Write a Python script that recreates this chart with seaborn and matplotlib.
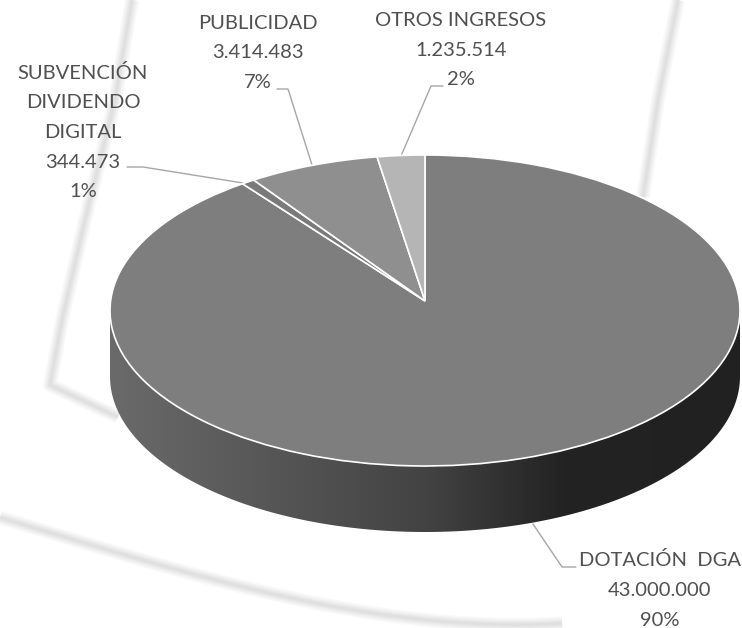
"""Pseudo-3D pie of income sources, on a faint watermark background."""

from __future__ import annotations

import matplotlib

matplotlib.use("Agg")
import matplotlib.pyplot as plt  # noqa: E402
import numpy as np  # noqa: E402
import seaborn as sns  # noqa: E402
from matplotlib.colors import LinearSegmentedColormap  # noqa: E402
from matplotlib.patches import Polygon  # noqa: E402

CATEGORIES = ["DOTACIÓN  DGA", "SUBVENCIÓN\nDIVIDENDO\nDIGITAL", "PUBLICIDAD", "OTROS INGRESOS"]
AMOUNTS = [43000000, 344473, 3414483, 1235514]
PERCENTS = [90, 1, 7, 2]
SLICE_COLORS = ["#7e7e7e", "#7a7a7a", "#8f8f8f", "#b5b5b5"]

WIDTH_PX, HEIGHT_PX = 742, 628
# ellipse of the top face in pixels
CX, CY, RX, RY = 425.0, 310.5, 315.0, 155.5
DEPTH = 66.0
APEX_Y = 301.0
BACK_SQUEEZE = 0.055
TEXT_COLOR = "#505050"
LEADER_COLOR = "#a6a6a6"


def label_text(idx: int) -> str:
    amount = f"{AMOUNTS[idx]:,}".replace(",", ".")
    return f"{CATEGORIES[idx]}\n{amount}\n{PERCENTS[idx]}%"


def soft_line(axis: plt.Axes, xs, ys) -> None:
    """Layer translucent strokes so the line looks blurred."""
    for width in (10, 8, 6, 4.5, 3, 1.6):
        axis.plot(xs, ys, color="#a0a0a0", alpha=0.06, lw=width,
                  solid_joinstyle="round", solid_capstyle="butt")


def draw_watermark(axis: plt.Axes) -> None:
    soft_line(axis, [132, 115, 85, 62, 50, 118], [0, 100, 220, 320, 385, 417])
    soft_line(axis, [678, 658, 643], [0, 100, 197])
    knots_x = [0, 71, 143, 238, 333, 428, 562]
    knots_y = [520, 533, 563, 587, 607, 618, 624]
    curve = np.poly1d(np.polyfit(knots_x, knots_y, 3))
    xs = np.linspace(0, 562, 120)
    soft_line(axis, xs, curve(xs))


def draw_labels(axis: plt.Axes) -> None:
    spots = {0: (660, 590), 1: (83, 132), 2: (258, 53), 3: (461, 50)}
    for idx, (x, y) in spots.items():
        axis.text(
            x, y, label_text(idx), ha="center", va="center", color=TEXT_COLOR,
            fontsize=14.5, linespacing=1.9,
        )
    leaders = [
        [(533, 524), (562, 567), (576, 567)],
        [(127, 167), (143, 167), (243, 183)],
        [(277, 89), (288, 89), (312, 165)],
        [(443, 86), (431, 86), (401, 156)],
    ]
    for leader in leaders:
        xs, ys = zip(*leader)
        axis.plot(xs, ys, color=LEADER_COLOR, lw=1.0)


def draw_side(axis: plt.Axes) -> None:
    """Shaded wall below the top face, in unit-circle coordinates."""
    depth = DEPTH / RY
    theta = np.linspace(0, np.pi, 200)
    lower = np.column_stack([-np.cos(theta), -np.sin(theta) - depth])
    upper = np.array([[1.0, 0.0], [-1.0, 0.0]])
    clip = Polygon(np.vstack([lower, upper]), closed=True, transform=axis.transData)
    shade = LinearSegmentedColormap.from_list(
        "side", [(0.0, "#6a6a6a"), (0.18, "#5c5c5c"), (0.5, "#434343"), (0.72, "#232323"), (1.0, "#212121")]
    )
    gradient = np.linspace(0, 1, 400).reshape(1, -1)
    image = axis.imshow(
        gradient, cmap=shade, extent=(-1, 1, -1 - depth, 0), aspect="auto", zorder=1
    )
    image.set_clip_path(clip)


def squeezed(theta: float) -> float:
    """Perspective narrows the far quarter of the disc, seen from the top."""
    phi = (theta - 90.0) % 360.0
    return theta - BACK_SQUEEZE * phi if phi < 90.0 else theta


def main() -> None:
    sns.set_theme(style="white")
    plt.rcParams["font.family"] = ["Lato", "DejaVu Sans"]
    figure = plt.figure(figsize=(WIDTH_PX / 100, HEIGHT_PX / 100), dpi=100)

    back = figure.add_axes([0, 0, 1, 1])
    back.set_xlim(0, WIDTH_PX)
    back.set_ylim(HEIGHT_PX, 0)
    back.axis("off")
    draw_watermark(back)
    draw_labels(back)

    axis = figure.add_axes([0, 0, 1, 1], zorder=2)
    axis.patch.set_alpha(0)
    draw_side(axis)
    wedges, _ = axis.pie(
        AMOUNTS,
        colors=SLICE_COLORS,
        startangle=90,
        counterclock=False,
        wedgeprops={"edgecolor": "white", "linewidth": 1.2, "zorder": 3},
    )
    for wedge in wedges:
        theta1, theta2 = wedge.theta1, wedge.theta2
        wedge.set_theta1(squeezed(theta1))
        wedge.set_theta2(squeezed(theta2))
        # the perspective of the original pulls the apex up from the ellipse centre
        verts = wedge.get_path().vertices
        verts[np.hypot(verts[:, 0], verts[:, 1]) < 1e-6, 1] += (CY - APEX_Y) / RY
    axis.set_aspect("auto")
    axis.set_xlim(-CX / RX, (WIDTH_PX - CX) / RX)
    axis.set_ylim(-(HEIGHT_PX - CY) / RY, CY / RY)
    axis.axis("off")

    figure.savefig("out.png", dpi=100)
    plt.close(figure)


if __name__ == "__main__":
    main()
